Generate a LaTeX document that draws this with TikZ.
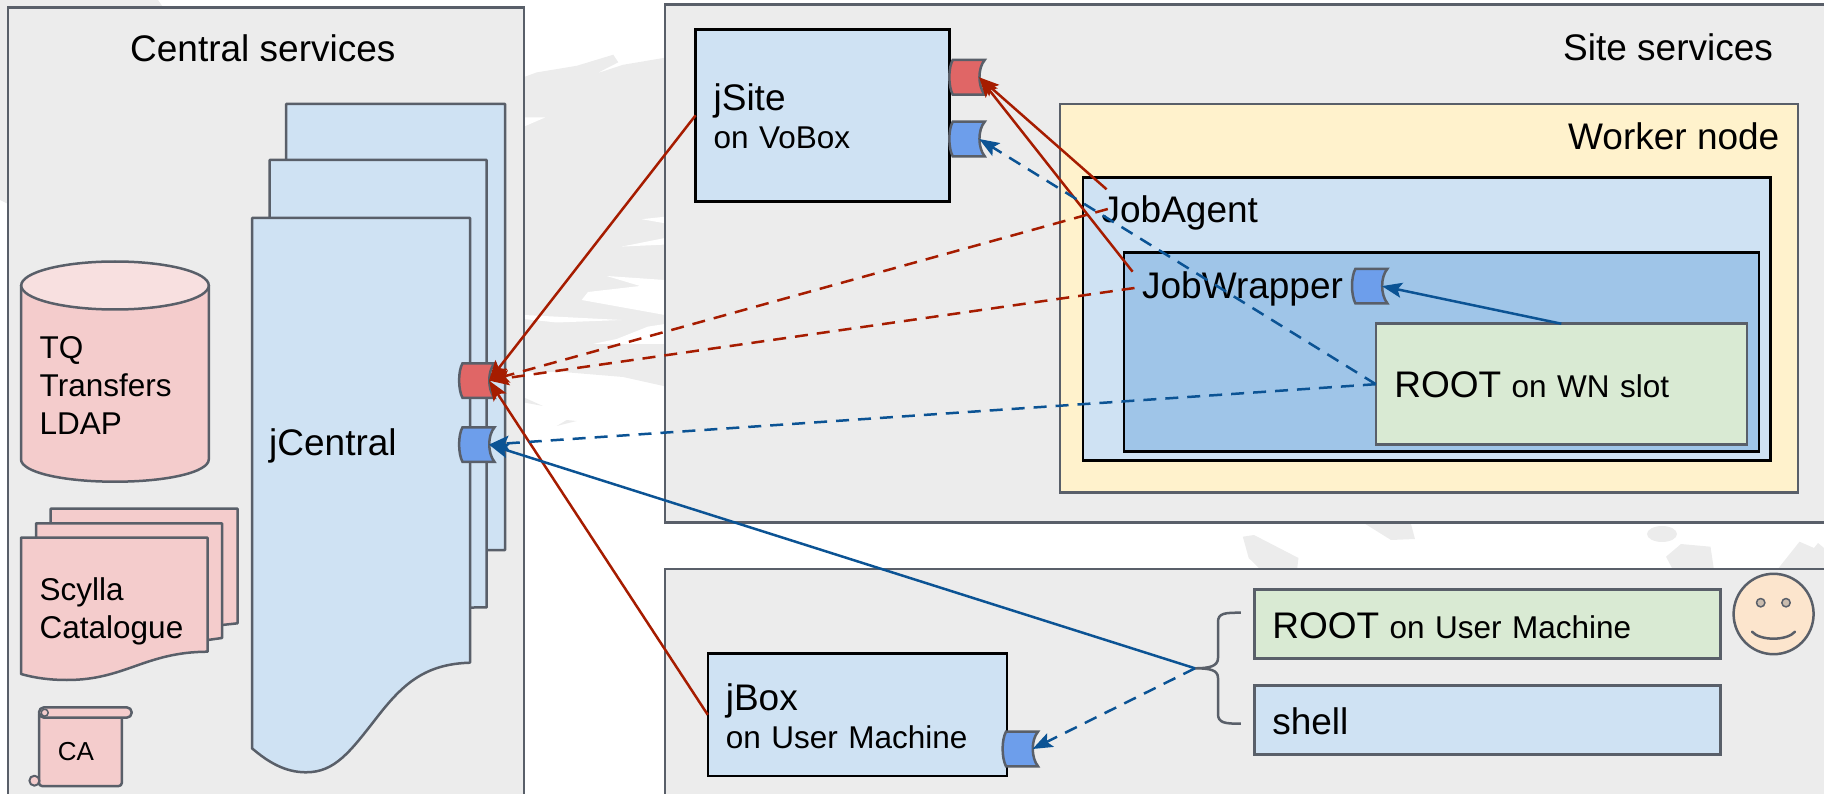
\documentclass[tikz,border=0pt]{standalone}
\usepackage{fontspec}
\setmainfont{Liberation Sans}
\usetikzlibrary{arrows.meta}
\newcommand{\bigtxt}{\fontsize{37}{44}\selectfont\spaceskip=0pt }
\newcommand{\smalltxt}{\fontsize{31.5}{38}\selectfont\spaceskip=0pt }
\definecolor{edgegray}{HTML}{595F69}
\definecolor{panelgray}{HTML}{ECECEC}
\definecolor{paleblue}{HTML}{CFE2F3}
\definecolor{midblue}{HTML}{9FC5E8}
\definecolor{palegreen}{HTML}{D9EAD3}
\definecolor{paleyellow}{HTML}{FFF2CC}
\definecolor{palepink}{HTML}{F4CCCC}
\definecolor{lightpink}{HTML}{F8E0E0}
\definecolor{skin}{HTML}{FCE5CD}
\definecolor{portred}{HTML}{E06666}
\definecolor{portblue}{HTML}{6D9EEB}
\definecolor{linered}{HTML}{A61C00}
\definecolor{lineblue}{HTML}{0B5394}
\begin{document}
\begin{tikzpicture}[x=1pt,y=-1pt]\tikzset{
	panel/.style = {draw=edgegray, fill=panelgray, line width=2.5pt, anchor=north west, inner sep=0pt, outer sep=0pt},
	blackbox/.style = {draw=black, line width=2.5pt, anchor=north west, inner sep=0pt, outer sep=0pt, align=left, font=\smalltxt, text depth=8pt},
	flatbox/.style = {draw=edgegray, line width=2.5pt, anchor=north west, inner sep=0pt, outer sep=0pt, align=left, font=\smalltxt, text depth=8pt},
	sheet/.style = {draw=edgegray, line width=2.5pt, line join=round},
	title/.style = {inner sep=0pt, anchor=base west, font=\bigtxt},
	note/.style = {inner sep=0pt, anchor=base west, align=left, font=\smalltxt},
	redline/.style = {draw=linered, line width=2.5pt, -{Stealth[length=20pt,width=15pt,inset=4pt]}},
	blueline/.style = {draw=lineblue, line width=2.5pt, -{Stealth[length=20pt,width=15pt,inset=4pt]}},
	dashes/.style = {dash pattern=on 13pt off 9pt},
	pics/port/.style = {code = {
		\path[draw=edgegray, line width=2.5pt, fill=#1] (3,0) -- (35,0) .. controls (28,8) and (28,26) .. (35,34.6) -- (3,34.6) .. controls (-1.5,26) and (-1.5,8) .. cycle;
		\coordinate (-tip) at (29.5,17.3);
	}}
}
	\useasboundingbox (0,0) rectangle (1824,794);
	\clip (0,0) rectangle (1824,794);

	\fill[panelgray] (0,0) -- (158,0) -- (165,10) -- (10,10) -- (10,205) -- (0,200) -- cycle;
	\fill[panelgray] (520,78.5) -- (536.7,72.4) -- (576.7,65.8) -- (613.3,54.7) -- (618.3,62.3) -- (596.7,73.4) -- (623,64.8) -- (668,57.2) -- (668,387) -- (623,377) -- (563,372) -- (520,372) -- cycle;
	\fill[white] (524,117.5) -- (545,117.5) -- (524,126.6) -- cycle;
	\fill[white] (665,216.7) -- (641.7,219.2) -- (665,223.3) -- cycle;
	\fill[white] (665,238) -- (621.7,246.6) -- (665,244.6) -- cycle;
	\fill[white] (588,292) -- (640,286) -- (606.7,276) -- (665,280) -- (665,315) -- (581.7,300) -- cycle;
	\fill[white] (524,315) -- (621.7,320) -- (556.7,322.5) -- (524,319) -- cycle;
	\fill[white] (665,324) -- (648,326.6) -- (616.7,339) -- (593,344) -- (665,344) -- cycle;
	\fill[panelgray] (524,397.5) -- (543,406) -- (524,402.5) -- cycle;
	\fill[panelgray] (556.7,426) -- (576.7,421) -- (566.7,420) -- cycle;
	\fill[panelgray] (1242.8,536.7) -- (1254,535) -- (1298.5,558) -- (1297,570) -- (1261,570) -- (1248.7,558) -- cycle;
	\fill[panelgray] (1365.3,524) -- (1411,524) -- (1415,539) -- (1391,540) -- cycle;
	\fill[panelgray] (1662,534) ellipse (15 and 8);
	\fill[panelgray] (1681,544) -- (1710.5,546.7) -- (1714,570) -- (1673,570) -- (1666,556.7) -- cycle;
	\fill[panelgray] (1777,570) -- (1799.5,541.7) -- (1814,548) -- (1818,543) -- (1824,548) -- (1824,570) -- cycle;

	\node[panel, minimum width=516pt, minimum height=800pt] (central) at (8,7.3) {};
	\node[panel, minimum width=1170pt, minimum height=518pt] (site) at (665,4.6) {};
	\node[panel, minimum width=1170pt, minimum height=240pt] (user) at (665,569) {};
	\node[title] (central_title) at (130,61.7) {Central services};
	\node[title] (site_title) at (1563,60.5) {Site services};

	\path[sheet, fill=paleblue] (286,104) -- (505,104) -- (505,550) -- (286,552) -- cycle;
	\path[sheet, fill=paleblue] (269.7,160) -- (486.7,160) -- (486.7,607.3) -- (269.7,610.7) -- cycle;
	\path[sheet, fill=paleblue] (252,218) -- (470,218) -- (470,662.7) .. controls (425,664) and (403,684) .. (378,716) .. controls (350,752) and (335,772.3) .. (306,772.3) .. controls (285,772.3) and (268,762) .. (252,748.3) -- cycle;
	\node[title] (jcentral_lbl) at (269,455) {jCentral};

	\path[sheet, fill=palepink] (21,285.5) -- (21,459.3) .. controls (21,472) and (62,481.7) .. (115,481.7) .. controls (168,481.7) and (208.8,472) .. (208.8,459.3) -- (208.8,285.5) -- cycle;
	\path[sheet, fill=lightpink] (115,285.5) ellipse (93.8 and 24);
	\node[note] (store_lbl) at (39.5,434.3) {TQ\\Transfers\\LDAP};

	\path[sheet, fill=palepink] (50.6,508.7) -- (237.6,508.7) -- (237.6,623.3) -- (222,625) -- (50.6,625) -- cycle;
	\path[sheet, fill=palepink] (36,523.3) -- (222,523.3) -- (222,638) -- (207.6,640) -- (36,640) -- cycle;
	\path[sheet, fill=palepink] (21,537.7) -- (207.6,537.7) -- (207.6,651.7) .. controls (145,652) and (125,680) .. (67,680) .. controls (50,680) and (35,678) .. (21,674) -- cycle;
	\node[note] (scylla_lbl) at (39.5,638.7) {Scylla\\Catalogue};

	\path[sheet, fill=palepink, rounded corners=3pt] (39,712) -- (39,786) -- (121.8,786) -- (121.8,712) -- cycle;
	\path[sheet, fill=palepink, rounded corners=5pt] (39,707.3) rectangle (131.7,717.7);
	\path[sheet, fill=palepink, line width=1.5pt] (44.7,712.7) circle (3.5);
	\path[sheet, fill=palepink, line width=2pt] (34.4,780.7) circle (5);
	\node[inner sep=0pt, anchor=base west, font=\fontsize{26}{31}\selectfont] (ca_lbl) at (57.7,760.3) {CA};

	\node[blackbox, fill=paleblue, minimum width=254pt, minimum height=172pt, text width=218pt, text height=30pt, text depth=40pt] (jsite) at (695.6,29.3) {{\bigtxt jSite}\\on VoBox};
	\node[panel, fill=paleyellow, minimum width=738pt, minimum height=388.7pt] (worker) at (1060,104) {};
	\node[title] (worker_title) at (1568,150) {Worker node};
	\node[blackbox, fill=paleblue, minimum width=687.5pt, minimum height=283pt] (jobagent) at (1083,177.7) {};
	\node[title] (jobagent_lbl) at (1101.4,222.7) {JobAgent};
	\node[blackbox, fill=midblue, minimum width=635pt, minimum height=199.4pt] (jobwrapper) at (1124,252.3) {};
	\node[title] (jobwrapper_lbl) at (1141.9,298.3) {JobWrapper};
	\node[flatbox, fill=palegreen, minimum width=371pt, minimum height=121pt, text width=334pt, text height=35pt] (rootwn) at (1375.8,323.7) {{\bigtxt ROOT} on WN slot};

	\node[blackbox, fill=paleblue, minimum width=299pt, minimum height=122.3pt, text width=263pt, text height=30pt, text depth=39.7pt] (jbox) at (707.8,653.7) {{\bigtxt jBox}\\on User Machine};
	\node[flatbox, fill=palegreen, minimum width=466pt, minimum height=69pt, text width=430pt, text height=38pt] (rootum) at (1254.3,589.3) {{\bigtxt ROOT} on User Machine};
	\node[flatbox, fill=paleblue, minimum width=466pt, minimum height=68.6pt, text width=430pt, text height=37.6pt] (shellbox) at (1254.3,685.7) {{\bigtxt shell}};

	\path[sheet, fill=skin] (1773.6,614) ellipse (40 and 40.2);
	\path[sheet, fill=skin!60!gray, line width=1.5pt] (1760.7,602.7) circle (4.2);
	\path[sheet, fill=skin!60!gray, line width=1.5pt] (1786,602.7) circle (4.2);
	\path[sheet, line cap=round] (1752,631.7) .. controls (1760,641) and (1787,641) .. (1795,631.7);

	\coordinate (brace_tip) at (1195,668.3);
	\draw[sheet] (1240.8,612.7) .. controls (1225,612.7) and (1218,613) .. (1218,622) -- (1218,658) .. controls (1218,666) and (1210,668.3) .. (brace_tip) .. controls (1210,668.3) and (1218,670) .. (1218,678) -- (1218,714) .. controls (1218,723) and (1225,723.7) .. (1240.8,723.7);

	\pic (cport_red) at (459.5,363.3) {port=portred};
	\pic (cport_blue) at (459.5,427.3) {port=portblue};
	\pic (sport_red) at (949.7,60) {port=portred};
	\pic (sport_blue) at (949.7,121.7) {port=portblue};
	\pic (wport_blue) at (1352.4,268.8) {port=portblue};
	\pic (bport_blue) at (1003,731.7) {port=portblue};

	\coordinate (agent_solid) at (1106.6,189.3);
	\coordinate (agent_dash) at (1107.8,209);
	\coordinate (wrapper_solid) at (1132.6,271.7);
	\coordinate (wrapper_dash) at (1134.5,288);

	\draw[redline, dashes] (agent_dash) -- (cport_red-tip);
	\draw[redline, dashes] (wrapper_dash) -- (cport_red-tip);
	\draw[redline] (jsite.west) -- (cport_red-tip);
	\draw[redline] (jbox.west) -- (cport_red-tip);
	\draw[redline] (agent_solid) -- (sport_red-tip);
	\draw[redline] (wrapper_solid) -- (sport_red-tip);
	\draw[blueline, dashes] (rootwn.west) -- (sport_blue-tip);
	\draw[blueline, dashes] (rootwn.west) -- (cport_blue-tip);
	\draw[blueline] (rootwn.north) -- (wport_blue-tip);
	\draw[blueline] (brace_tip) -- (cport_blue-tip);
	\draw[blueline, dashes] (brace_tip) -- (bport_blue-tip);
\end{tikzpicture}
\end{document}
